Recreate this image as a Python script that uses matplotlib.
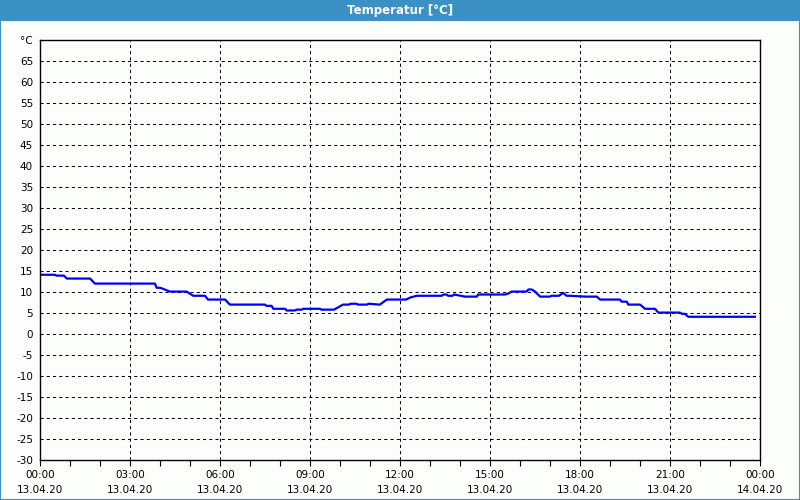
import matplotlib
matplotlib.use('Agg')
import matplotlib.pyplot as plt
from matplotlib.patches import Rectangle
from matplotlib.ticker import MultipleLocator

# hours since 13.04.20 00:00 and temperature in degC
hours = [0.0, 0.5, 0.55, 0.8, 0.85, 0.9, 1.67, 1.83, 3.83, 3.89, 4.0, 4.05, 4.33, 4.89,
         4.95, 5.11, 5.5, 5.6, 6.17, 6.33, 7.5, 7.55, 7.72, 7.78, 8.17, 8.22, 8.5, 8.55,
         8.72, 8.78, 9.33, 9.38, 9.8, 9.85, 10.1, 10.3, 10.35, 10.55, 10.6, 10.9, 10.95,
         11.33, 11.56, 12.0, 12.2, 12.35, 12.56, 13.39, 13.45, 13.55, 13.6, 13.75, 13.8,
         14.17, 14.56, 14.6, 15.5, 15.6, 15.72, 16.22, 16.28, 16.39, 16.5, 16.67, 17.0,
         17.05, 17.3, 17.44, 17.55, 17.67, 18.17, 18.56, 18.67, 19.33, 19.39, 19.56,
         19.61, 20.0, 20.17, 20.5, 20.61, 21.33, 21.4, 21.5, 21.61, 23.83]
temps = [14.1, 14.1, 13.9, 13.9, 13.5, 13.2, 13.2, 12.0, 12.0, 11.0, 11.0, 10.9, 10.1, 10.1,
         9.8, 9.1, 9.1, 8.2, 8.2, 7.0, 7.0, 6.7, 6.7, 6.0, 6.0, 5.6, 5.6, 5.8,
         5.8, 6.0, 6.0, 5.8, 5.8, 6.0, 7.0, 7.0, 7.2, 7.2, 7.0, 7.0, 7.2,
         7.0, 8.2, 8.2, 8.2, 8.7, 9.1, 9.1, 9.4, 9.4, 9.1, 9.1, 9.4,
         8.9, 8.9, 9.4, 9.4, 9.6, 10.1, 10.1, 10.6, 10.6, 10.1, 8.9, 8.9,
         9.1, 9.1, 9.8, 9.1, 9.1, 8.9, 8.9, 8.2, 8.2, 7.7, 7.7,
         7.0, 7.0, 6.0, 6.0, 5.1, 5.1, 4.8, 4.8, 4.1, 4.1]

x_ticks = [0, 3, 6, 9, 12, 15, 18, 21, 24]
x_labels = ['00:00\n13.04.20', '03:00\n13.04.20', '06:00\n13.04.20', '09:00\n13.04.20',
            '12:00\n13.04.20', '15:00\n13.04.20', '18:00\n13.04.20', '21:00\n13.04.20',
            '00:00\n14.04.20']
y_ticks = list(range(-30, 75, 5))
y_labels = [str(v) for v in y_ticks[:-1]] + ['°C']

plt.rcParams['font.family'] = ['DejaVu Sans']
fig = plt.figure(figsize=(8, 5), dpi=100, facecolor='#fcfefc')

# window frame and title bar
fig.patches.append(Rectangle((0, 0), 1, 1, transform=fig.transFigure, fill=False,
                             edgecolor='#3c91c4', linewidth=1.5))
fig.patches.append(Rectangle((0, 1 - 21 / 500), 1, 21 / 500, transform=fig.transFigure,
                             facecolor='#3c91c4', edgecolor='none'))
fig.text(0.5, 1 - 10.5 / 500, 'Temperatur [°C]', color='white', fontsize=8.5,
         ha='center', va='center', family=['Liberation Sans Narrow', 'DejaVu Sans'],
         fontweight='bold')

ax = fig.add_axes([0.05, 0.08, 0.9, 0.84])
ax.set_facecolor('#fcfefc')
ax.plot(hours, temps, color='#0000ff', linewidth=1.6)

ax.set_xlim(0, 24)
ax.set_ylim(-30, 70)
ax.set_xticks(x_ticks)
ax.set_xticklabels(x_labels, fontsize=7.5, linespacing=1.7)
ax.xaxis.set_minor_locator(MultipleLocator(1))
ax.set_yticks(y_ticks)
ax.set_yticklabels(y_labels, fontsize=7.5)
ax.tick_params(axis='y', length=0, pad=5)
ax.tick_params(axis='x', which='both', length=4, width=0.8, pad=3)

for s in ax.spines.values():
    s.set_linewidth(1.0)
    s.set_color('black')

for h in x_ticks[1:-1]:
    ax.axvline(h, color='black', linewidth=0.75, linestyle=(0, (3, 3)), zorder=0)
for v in y_ticks[1:-1]:
    ax.axhline(v, color='black', linewidth=0.75, linestyle=(0, (3, 3)), zorder=0)

fig.savefig('out.png', dpi=100, facecolor=fig.get_facecolor())
